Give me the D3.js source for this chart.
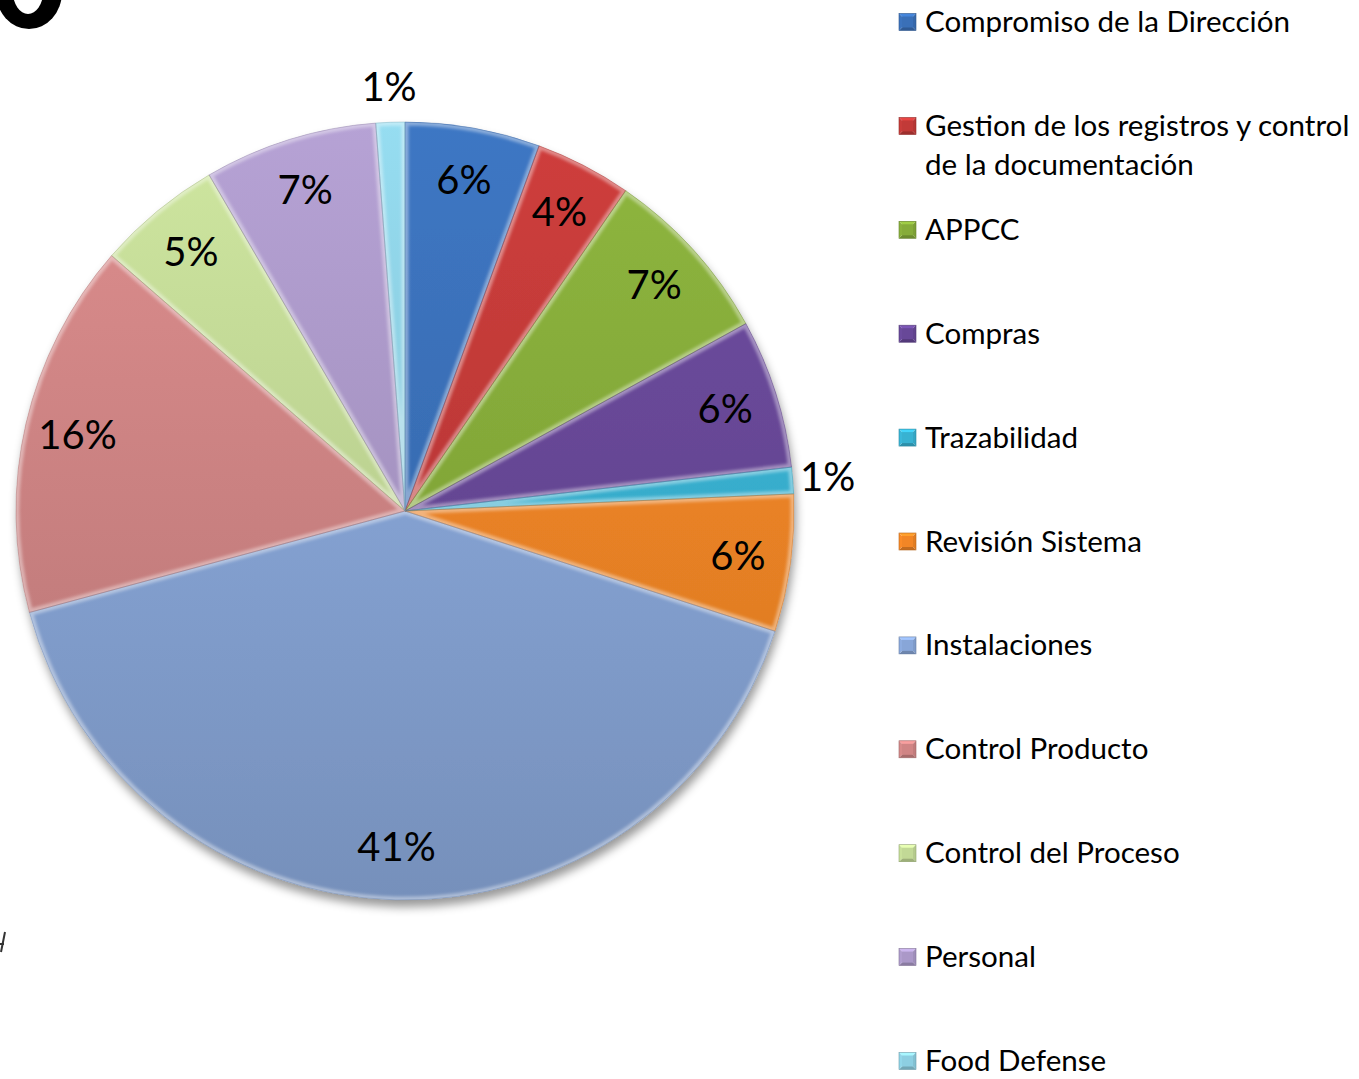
<!DOCTYPE html>
<html>
<head>
<meta charset="utf-8">
<script src="https://cdn.jsdelivr.net/npm/d3@7"></script>
<style>
  body { margin: 0; background: #fff; }
  text { font-family: Lato, "Open Sans", sans-serif; fill: #000; }
</style>
</head>
<body>
<div id="chart"></div>
<script>
// data
var categories = [
  "Compromiso de la Dirección",
  "Gestion de los registros y control de la documentación",
  "APPCC",
  "Compras",
  "Trazabilidad",
  "Revisión Sistema",
  "Instalaciones",
  "Control Producto",
  "Control del Proceso",
  "Personal",
  "Food Defense"
];
var values = [5.6, 4.0, 7.4, 6.2, 1.1, 5.7, 40.8, 15.6, 5.2, 7.2, 1.2];
var colors = ["#3a70b8", "#c23a38", "#86ac3a", "#684898", "#38b2d2", "#f28626",
              "#88a6d8", "#d08585", "#c2d996", "#ab98c8", "#8dcfe2"];

var width = 1359, height = 1079;
var cx = 405, cy = 511, R = 389;

var svg = d3.select("#chart").append("svg")
    .attr("width", width)
    .attr("height", height);

var defs = svg.append("defs");

// shadow under the pie
var shadow = defs.append("filter").attr("id", "shadow")
    .attr("x", "-10%").attr("y", "-10%").attr("width", "120%").attr("height", "120%");
shadow.append("feDropShadow")
    .attr("dx", 2).attr("dy", 7).attr("stdDeviation", 5)
    .attr("flood-color", "#000").attr("flood-opacity", 0.4);

var soft = defs.append("filter").attr("id", "soft");
soft.append("feGaussianBlur").attr("stdDeviation", 1.6);

// background fragments (big black O in the corner, a stroke at left)
svg.append("ellipse").attr("cx", 29).attr("cy", -8).attr("rx", 33).attr("ry", 37).attr("fill", "#000");
svg.append("ellipse").attr("cx", 28).attr("cy", -8).attr("rx", 15).attr("ry", 22).attr("fill", "#fff");
svg.append("path").attr("d", "M5,932 L1,952 M0,944 L4,944")
    .attr("stroke", "#333").attr("stroke-width", 2).attr("fill", "none");

var pie = d3.pie().sort(null).value(function(d){ return d; });
var arcs = pie(values);
var total = d3.sum(values);

var arc = d3.arc().innerRadius(0).outerRadius(R);

// gradient per slice: light on top, darker at bottom
colors.forEach(function(c, i){
    var g = defs.append("linearGradient")
        .attr("id", "grad" + i)
        .attr("gradientUnits", "userSpaceOnUse")
        .attr("x1", 0).attr("y1", -R).attr("x2", 0).attr("y2", R);
    g.append("stop").attr("offset", "0%").attr("stop-color", d3.color(c).brighter(0.18));
    g.append("stop").attr("offset", "100%").attr("stop-color", d3.color(c).darker(0.4));
    defs.append("clipPath").attr("id", "clip" + i)
        .append("path").attr("d", arc(arcs[i]));
});

var g = svg.append("g")
    .attr("transform", "translate(" + cx + "," + cy + ")");

var slices = g.append("g").attr("filter", "url(#shadow)");

slices.selectAll("path.slice")
    .data(arcs)
    .enter().append("path")
    .attr("class", "slice")
    .attr("d", arc)
    .attr("fill", function(d, i){ return "url(#grad" + i + ")"; });

// bevel ridge along slice edges
g.selectAll("g.bevel")
    .data(arcs)
    .enter().append("g")
    .attr("class", "bevel")
    .attr("clip-path", function(d, i){ return "url(#clip" + i + ")"; })
    .append("path")
    .attr("d", arc)
    .attr("fill", "none")
    .attr("stroke", "#fff")
    .attr("stroke-width", 7)
    .attr("stroke-opacity", 0.4)
    .attr("filter", "url(#soft)");

g.selectAll("path.edge")
    .data(arcs)
    .enter().append("path")
    .attr("class", "edge")
    .attr("d", arc)
    .attr("fill", "none")
    .attr("stroke", function(d, i){ return d3.color(colors[i]).darker(0.6); })
    .attr("stroke-opacity", 0.5)
    .attr("stroke-width", 0.8);

// percentage labels
var fmt = d3.format(".0%");
var inner = d3.arc().innerRadius(336).outerRadius(336);
var outer = d3.arc().innerRadius(424).outerRadius(424);

g.selectAll("text.pct")
    .data(arcs)
    .enter().append("text")
    .attr("class", "pct")
    .attr("transform", function(d){
        var p = (d.value / total < 0.02 ? outer : inner).centroid(d);
        return "translate(" + p[0] + "," + p[1] + ")";
    })
    .attr("text-anchor", "middle")
    .attr("dy", "0.34em")
    .style("font-size", "40px")
    .text(function(d){ return fmt(d.value / total); });

// legend
var legendY = d3.scaleLinear().domain([0, categories.length - 1]).range([22, 1061]);
var legend = svg.append("g").attr("transform", "translate(899,0)");
var ms = 17;

var items = legend.selectAll("g.item")
    .data(categories)
    .enter().append("g")
    .attr("class", "item")
    .attr("transform", function(d, i){ return "translate(0," + legendY(i) + ")"; });

// pyramid-style markers
items.each(function(d, i){
    var it = d3.select(this);
    var c = d3.color(colors[i]);
    var h = ms / 2;
    var faces = [
        { pts: [[-h,-h],[h,-h],[0,0]], col: c.brighter(0.5) },
        { pts: [[h,-h],[h,h],[0,0]], col: c.darker(0.2) },
        { pts: [[h,h],[-h,h],[0,0]], col: c.darker(0.6) },
        { pts: [[-h,h],[-h,-h],[0,0]], col: c.brighter(0.1) }
    ];
    faces.forEach(function(f){
        it.append("path")
            .attr("d", "M" + f.pts.map(function(p){ return (p[0] + h) + "," + p[1]; }).join("L") + "Z")
            .attr("fill", f.col);
    });
    it.append("rect").attr("x", 3).attr("y", -h + 3).attr("width", ms - 6).attr("height", ms - 6)
        .attr("fill", c);
    it.append("rect").attr("x", 0).attr("y", -h).attr("width", ms).attr("height", ms)
        .attr("fill", "none").attr("stroke", c.darker(0.8)).attr("stroke-width", 0.6);
});

var labels = items.append("text")
    .attr("x", 26)
    .attr("dy", "0.34em")
    .style("font-size", "28px");

// size the legend font so the first entry matches the original width
labels.filter(function(d, i){ return i === 0; }).text(function(d){ return d; });
var w0 = labels.node().getComputedTextLength();
var fs = 28 * 365 / w0;
labels.style("font-size", fs + "px");

var maxW = width - 899 - 26 - 4;
labels.each(function(d){
    var t = d3.select(this);
    t.text(null);
    var words = d.split(" "), line = [];
    var ts = t.append("tspan").attr("x", 26);
    words.forEach(function(wd){
        line.push(wd);
        ts.text(line.join(" "));
        if (ts.node().getComputedTextLength() > maxW && line.length > 1) {
            line.pop();
            ts.text(line.join(" "));
            line = [wd];
            ts = t.append("tspan").attr("x", 26).attr("dy", 39).text(wd);
        }
    });
});
</script>
</body>
</html>
